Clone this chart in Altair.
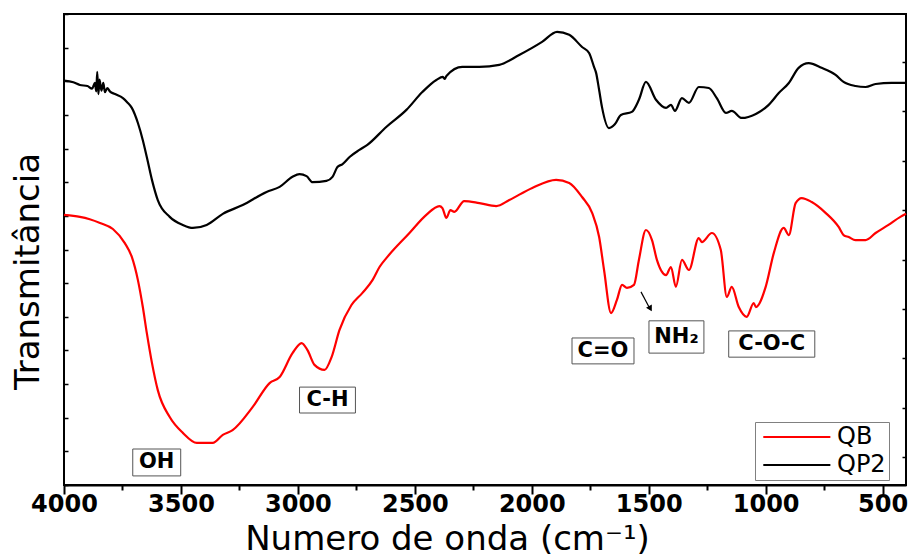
import altair as alt
import pandas as pd

# ---------------- data ----------------
series_names = ["QB", "QP2"]
series_colors = ["#ff0000", "#000000"]

# QP2 (black) : wavenumber (cm-1), transmittance (arbitrary units)
qp2_wn = [4000, 3960, 3932, 3900, 3880, 3868, 3862, 3858, 3853, 3848, 3840, 3832, 3825, 3815,
          3804, 3782, 3748, 3730, 3710, 3684, 3663, 3646, 3624, 3599, 3548, 3492, 3449, 3390,
          3321, 3236, 3134, 3078, 3023, 2993, 2963, 2937, 2878, 2852, 2831, 2809, 2779, 2737,
          2703, 2621, 2536, 2468, 2408, 2380, 2372, 2365, 2297, 2224, 2139, 2054, 1956, 1892,
          1840, 1785, 1755, 1734, 1725, 1712, 1700, 1670, 1645, 1619, 1572, 1542, 1512, 1469,
          1426, 1405, 1388, 1358, 1328, 1286, 1243, 1209, 1170, 1145, 1102, 1042, 987, 944,
          901, 859, 816, 761, 701, 667, 616, 573, 530, 462, 419, 400]
qp2_t = [12.02, 11.97, 11.89, 11.86, 11.78, 11.95, 11.70, 12.28, 11.62, 12.05, 11.72, 11.95, 11.68, 11.80,
         11.70, 11.62, 11.50, 11.38, 11.21, 10.76, 10.25, 9.75, 9.07, 8.47, 7.97, 7.73, 7.64, 7.73,
         8.06, 8.32, 8.71, 8.86, 9.16, 9.24, 9.18, 9.00, 9.04, 9.16, 9.45, 9.54, 9.75, 9.96,
         10.11, 10.65, 11.15, 11.68, 12.04, 12.13, 12.07, 12.16, 12.43, 12.43, 12.49, 12.78, 13.17, 13.47,
         13.38, 13.02, 12.84, 12.43, 12.25, 11.74, 11.24, 10.61, 10.72, 11.00, 11.09, 11.45, 11.98, 11.45,
         11.21, 11.30, 11.12, 11.50, 11.36, 11.83, 11.80, 11.50, 11.06, 11.12, 10.91, 11.03, 11.30, 11.65,
         11.95, 12.40, 12.54, 12.40, 12.19, 11.98, 11.86, 11.83, 11.92, 11.95, 11.95, 11.95]

# QB (red)
qb_wn = [4000, 3960, 3932, 3890, 3846, 3791, 3740, 3710, 3684, 3663, 3646, 3624, 3599, 3548,
         3492, 3432, 3364, 3321, 3279, 3193, 3121, 3078, 3023, 2984, 2959, 2929, 2886, 2856,
         2822, 2771, 2724, 2681, 2651, 2621, 2523, 2451, 2395, 2382, 2365, 2348, 2331, 2289,
         2224, 2152, 2096, 1998, 1896, 1840, 1785, 1742, 1712, 1691, 1661, 1636, 1614, 1593,
         1563, 1542, 1512, 1486, 1465, 1426, 1405, 1384, 1358, 1328, 1286, 1273, 1230, 1192,
         1166, 1145, 1115, 1081, 1051, 1042, 1000, 965, 923, 901, 872, 846, 803, 744,
         688, 667, 645, 616, 573, 530, 475, 424, 400]
qb_t = [8.03, 8.00, 7.97, 7.90, 7.79, 7.61, 7.19, 6.78, 6.09, 5.29, 4.52, 3.63, 2.82, 2.02,
        1.55, 1.25, 1.25, 1.49, 1.63, 2.32, 3.03, 3.21, 3.92, 4.22, 4.01, 3.57, 3.42, 3.80,
        4.61, 5.35, 5.71, 6.09, 6.48, 6.75, 7.49, 8.03, 8.29, 8.23, 7.94, 8.17, 8.12, 8.44,
        8.38, 8.29, 8.47, 8.83, 9.07, 8.98, 8.56, 8.09, 7.37, 6.39, 5.11, 5.50, 5.95, 5.86,
        5.95, 6.69, 7.58, 7.28, 6.69, 6.24, 6.48, 5.89, 6.69, 6.39, 7.34, 7.22, 7.49, 6.99,
        5.59, 5.89, 5.29, 5.00, 5.41, 5.29, 5.89, 6.90, 7.64, 7.43, 8.38, 8.53, 8.41, 8.09,
        7.67, 7.43, 7.37, 7.28, 7.28, 7.49, 7.73, 7.97, 8.06]

# band annotations (boxes in data units)
band_labels = ["OH", "C-H", "C=O", "NH₂", "C-O-C"]
band_x1 = [3706, 2993, 1828, 1499, 1158]
band_x2 = [3501, 2754, 1563, 1264, 790]
band_y1 = [0.27, 2.14, 3.60, 3.92, 3.80]
band_y2 = [1.07, 2.91, 4.37, 4.88, 4.58]

# arrow pointing at the NH2 band
arrow_x = [1533]
arrow_x2 = [1492]
arrow_y = [5.74]
arrow_y2 = [5.20]
arrow_tip_x = [1493]
arrow_tip_y = [5.24]

x_ticks = list(range(4000, 499, -250))
y_ticks = list(range(0, 15))
right_ticks = list(range(0, 9))

# ---------------- chart ----------------
W, H = 842, 471
FONT = "DejaVu Sans"

spec = pd.DataFrame({
    "wn": qb_wn + qp2_wn,
    "t": qb_t + qp2_t,
    "amostra": [series_names[0]] * len(qb_wn) + [series_names[1]] * len(qp2_wn),
})
bands = pd.DataFrame({
    "label": band_labels, "x1": band_x1, "x2": band_x2, "y1": band_y1, "y2": band_y2,
})
bands["xc"] = (bands["x1"] + bands["x2"]) / 2
bands["yc"] = (bands["y1"] + bands["y2"]) / 2
arrow = pd.DataFrame({"ax": arrow_x, "ax2": arrow_x2, "ay": arrow_y, "ay2": arrow_y2})
tip = pd.DataFrame({"tx": arrow_tip_x, "ty": arrow_tip_y})
rt = pd.DataFrame({"r": right_ticks})

xscale = alt.Scale(domain=[4000, 400], nice=False, zero=False)
yscale = alt.Scale(domain=[0, 14], nice=False, zero=False)

xaxis = alt.Axis(
    values=x_ticks, format="d",
    labelExpr="datum.value % 500 === 0 ? datum.label : ''",
    labelFont=FONT, labelFontWeight="bold", labelFontSize=24, labelColor="black",
    labelPadding=-2, labelFlush=False, labelOverlap=False,
    tickSize={"condition": {"test": "datum.value % 500 === 0", "value": 9}, "value": 5},
    tickWidth=2, tickColor="black", domainColor="black", domainWidth=2, grid=False,
    title="Numero de onda (cm⁻¹)", titleFont=FONT, titleFontSize=34, titleFontWeight="normal",
    titleColor="black", titleX=383, titleY=64, titleAlign="center", titleBaseline="alphabetic",
)
yaxis = alt.Axis(
    orient="right", offset=-W, values=y_ticks, labels=False, tickSize=4, tickWidth=1.5,
    tickColor="black", domain=False, grid=False,
    title="Transmitância", titleFont=FONT, titleFontSize=34, titleFontWeight="normal",
    titleColor="black", titleAngle=270, titleX=-26, titleY=257, titleAlign="center",
    titleBaseline="alphabetic",
)


def X(f):
    return alt.X(f, type="quantitative", scale=xscale, axis=xaxis)


def Y(f):
    return alt.Y(f, type="quantitative", scale=yscale, axis=yaxis)


lines = alt.Chart(spec).mark_line(strokeWidth=2.2, interpolate="monotone").encode(
    x=X("wn"), y=Y("t"),
    color=alt.Color("amostra:N", scale=alt.Scale(domain=series_names, range=series_colors),
                    legend=alt.Legend(
                        title=None, orient="none", legendX=691, legendY=408, padding=3,
                        strokeColor="#808080", fillColor="white",
                        labelFont=FONT, labelFontSize=24, labelColor="black", rowPadding=4,
                        symbolType="M-1,0H9", symbolSize=180, symbolStrokeWidth=2,
                        labelOffset=55)),
)

boxes = alt.Chart(bands).mark_rect(fill="white", stroke="#555555", strokeWidth=1).encode(
    x=X("x1"), x2="x2", y=Y("y1"), y2="y2",
)
texts = alt.Chart(bands).mark_text(font=FONT, fontWeight="bold", fontSize=21, color="black",
                                   align="center", baseline="middle").encode(
    x=X("xc"), y=Y("yc"), text="label:N",
)
arrow_line = alt.Chart(arrow).mark_rule(color="black", strokeWidth=1.2).encode(
    x=X("ax"), x2="ax2", y=Y("ay"), y2="ay2",
)
arrow_head = alt.Chart(tip).mark_point(shape="triangle-down", filled=True, color="black",
                                       size=45, angle=330, opacity=1).encode(
    x=X("tx"), y=Y("ty"),
)

main = alt.layer(lines, boxes, texts, arrow_line, arrow_head)

right_axis = alt.Chart(rt).mark_point(opacity=0).encode(
    y=alt.Y("r:Q", scale=alt.Scale(domain=[-0.56, 8.97], nice=False, zero=False),
            axis=alt.Axis(orient="left", offset=-W, values=right_ticks, labels=False,
                          tickSize=4, tickWidth=1.5, tickColor="black", domain=False,
                          grid=False, title=None)),
)

chart = alt.layer(main, right_axis).resolve_scale(y="independent").properties(
    width=W, height=H,
    autosize=alt.AutoSizeParams(type="none"),
    padding={"left": 64, "top": 14, "right": 6, "bottom": 74},
    background="white",
).configure_view(stroke="black", strokeWidth=2)

chart.save("out.html", embed_options={"renderer": "svg", "actions": False})
